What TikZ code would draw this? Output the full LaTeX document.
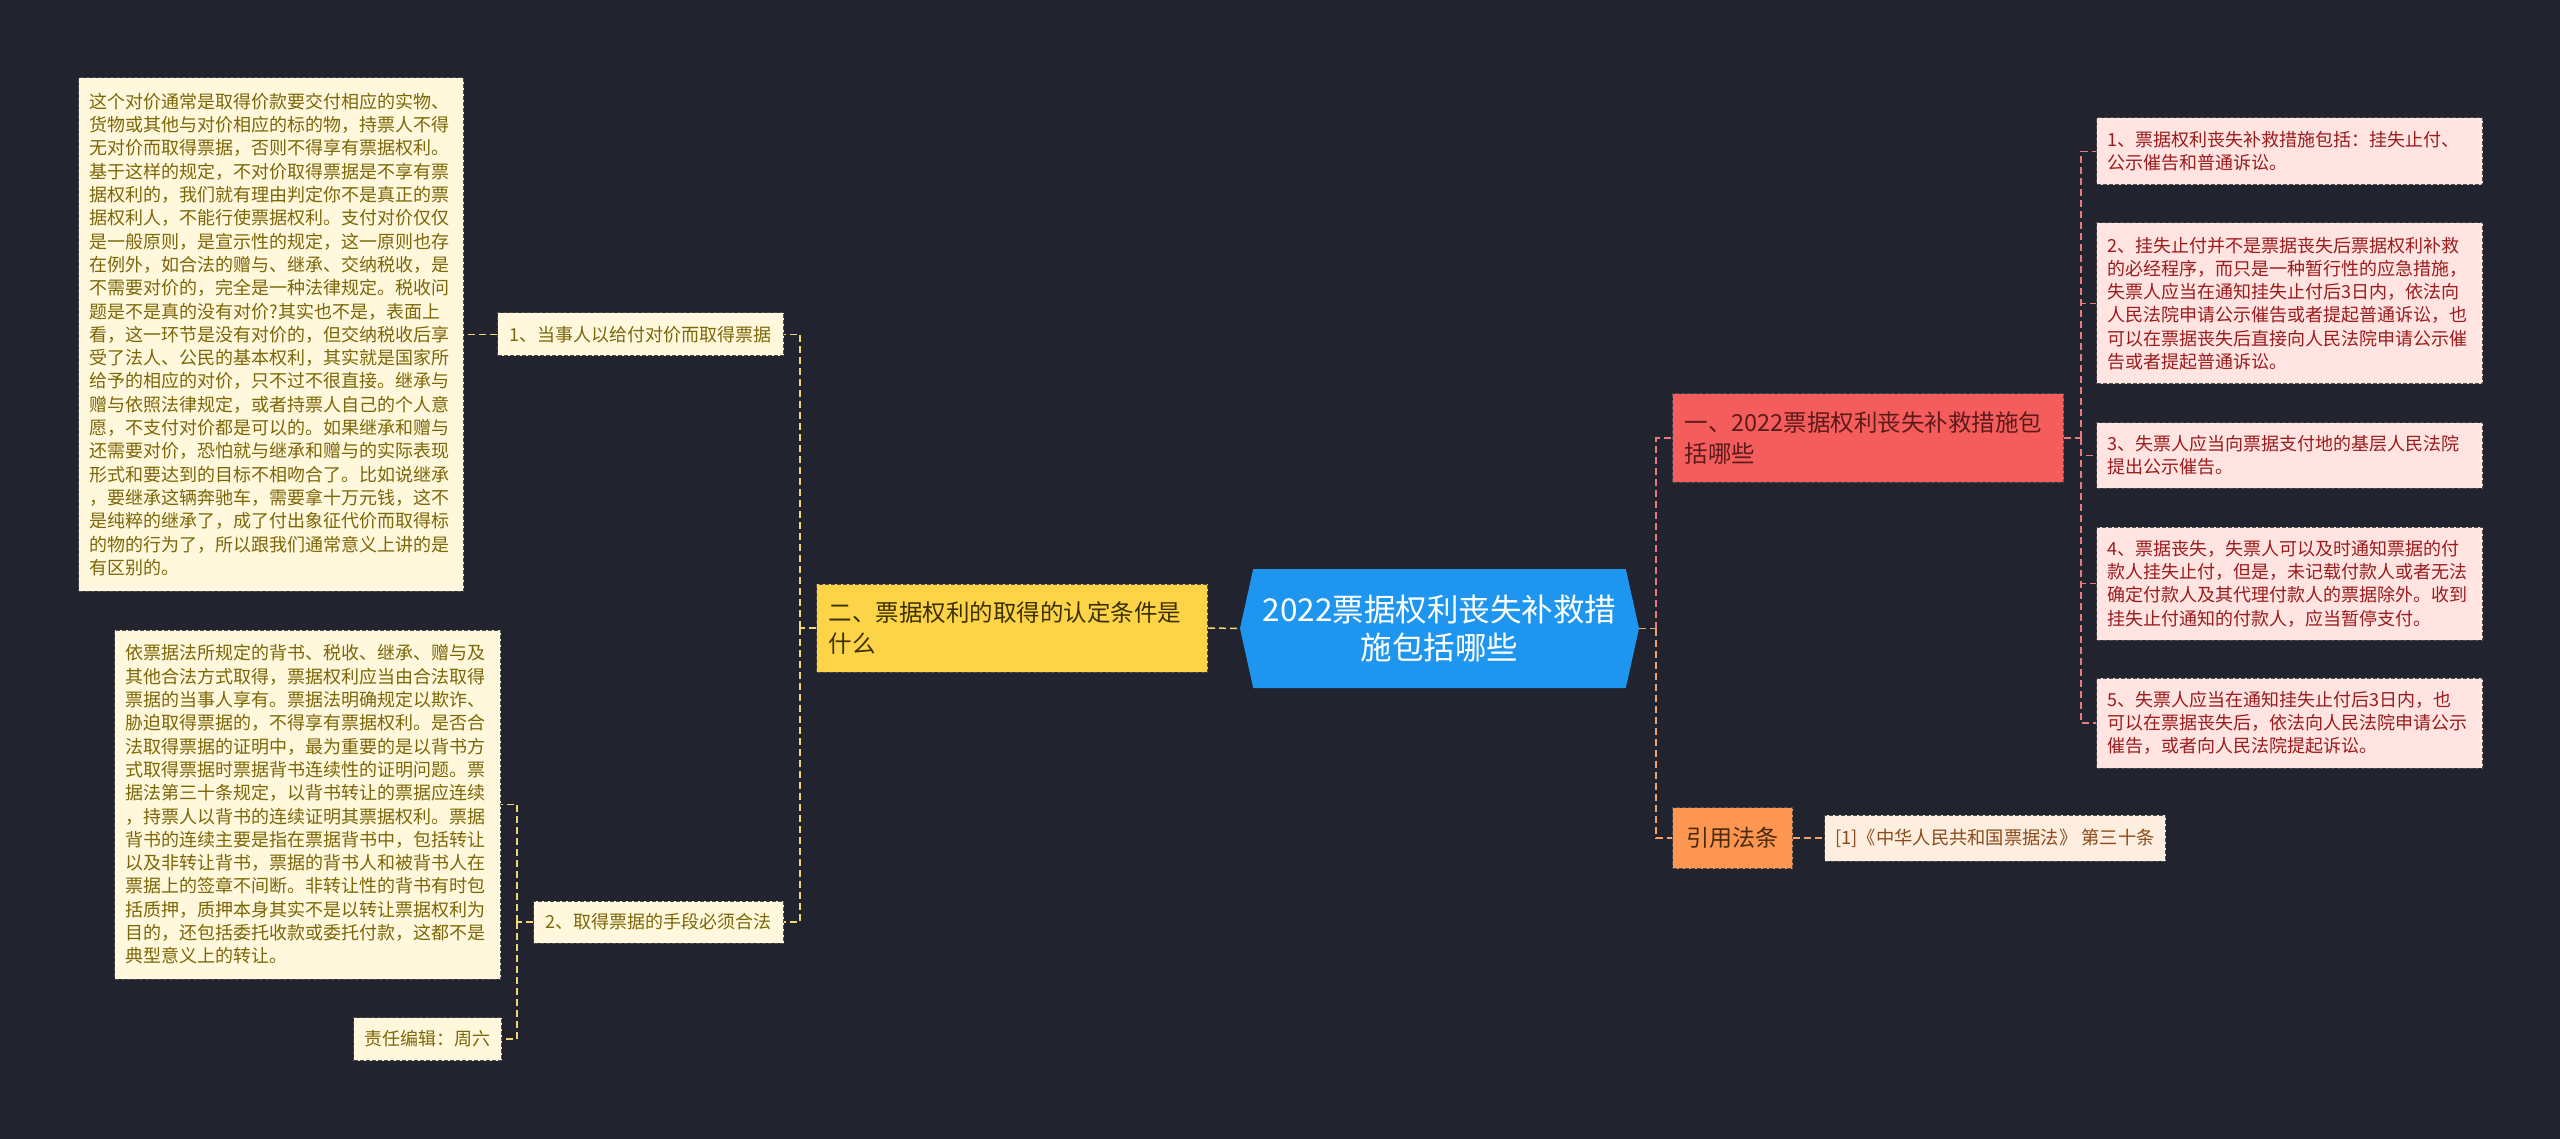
\documentclass[tikz,border=0pt]{standalone}
\usepackage{fontspec}
\setmainfont{Noto Sans CJK SC}
\usepackage{tikz}
\usetikzlibrary{positioning,shapes.symbols}
\definecolor{bgdark}{HTML}{21232F}
\definecolor{hubblue}{HTML}{1E96F0}
\definecolor{gold}{HTML}{FDD447}
\definecolor{goldtxt}{HTML}{3D3000}
\definecolor{cream}{HTML}{FFF8DC}
\definecolor{creamtxt}{HTML}{7D6608}
\definecolor{coral}{HTML}{F55D5D}
\definecolor{coraltxt}{HTML}{5C1A1A}
\definecolor{rose}{HTML}{FFE4E1}
\definecolor{rosetxt}{HTML}{9B1C1C}
\definecolor{amber}{HTML}{FD9650}
\definecolor{ambertxt}{HTML}{4A2A10}
\definecolor{peach}{HTML}{FDEEDF}
\definecolor{peachtxt}{HTML}{8B4A1A}
\definecolor{linkyel}{HTML}{F2D675}
\definecolor{linkpink}{HTML}{E8797F}
\definecolor{linkamber}{HTML}{F4A26C}

\begin{document}
\begin{tikzpicture}[
  x=1pt, y=-1pt,
  box/.style={draw=black!70, dash pattern=on 4pt off 2pt, line width=1pt, anchor=west, inner ysep=0pt},
  leaf/.style={box, fill=cream, text=creamtxt, font=\fontsize{18}{23.3}\selectfont, inner xsep=11pt, align=left},
  pleaf/.style={box, fill=rose, text=rosetxt, font=\fontsize{18}{23.3}\selectfont, inner xsep=11pt, align=left, text width=364pt},
  branch/.style={box, font=\fontsize{23.5}{31.7}\selectfont, inner xsep=12pt, align=left, text width=367pt, minimum height=88pt},
  hub/.style={signal, signal to=west and east, signal pointer angle=155, fill=hubblue, text=white, font=\fontsize{31.5}{38}\selectfont, align=center, minimum width=399pt, minimum height=119pt, inner sep=0pt},
  ylink/.style={draw=linkyel, line width=1.5pt, dash pattern=on 7pt off 4pt},
  plink/.style={draw=linkpink, line width=1.5pt, dash pattern=on 7pt off 4pt},
  olink/.style={draw=linkamber, line width=1.5pt, dash pattern=on 7pt off 4pt}
]
  \fill[bgdark] (0,0) rectangle (2560,1139);
  \useasboundingbox (0,0) rectangle (2560,1139);

  % CENTRE
  \node[hub] (hub) at (1439.5,628.5) {2022票据权利丧失补救措\\施包括哪些};

  % LEFT: acquisition conditions
  \node[branch, fill=gold, text=goldtxt] (acq) at (816,628) {二、票据权利的取得的认定条件是\\什么};
  \node[leaf, minimum width=286pt, minimum height=43pt, align=center] (cond1) at (497,334.5) {1、当事人以给付对价而取得票据};
  \node[leaf, minimum width=250pt, minimum height=42pt, align=center] (cond2) at (533,922) {2、取得票据的手段必须合法};
  \node[leaf, text width=363pt, minimum height=513pt] (pay) at (78,334.5) {这个对价通常是取得价款要交付相应的实物、\\货物或其他与对价相应的标的物，持票人不得\\无对价而取得票据，否则不得享有票据权利。\\基于这样的规定，不对价取得票据是不享有票\\据权利的，我们就有理由判定你不是真正的票\\据权利人，不能行使票据权利。支付对价仅仅\\是一般原则，是宣示性的规定，这一原则也存\\在例外，如合法的赠与、继承、交纳税收，是\\不需要对价的，完全是一种法律规定。税收问\\题是不是真的没有对价?其实也不是，表面上\\看，这一环节是没有对价的，但交纳税收后享\\受了法人、公民的基本权利，其实就是国家所\\给予的相应的对价，只不过不很直接。继承与\\赠与依照法律规定，或者持票人自己的个人意\\愿，不支付对价都是可以的。如果继承和赠与\\还需要对价，恐怕就与继承和赠与的实际表现\\形式和要达到的目标不相吻合了。比如说继承\\，要继承这辆奔驰车，需要拿十万元钱，这不\\是纯粹的继承了，成了付出象征代价而取得标\\的物的行为了，所以跟我们通常意义上讲的是\\有区别的。};
  \node[leaf, text width=364pt, minimum height=349pt] (legal) at (114,804.5) {依票据法所规定的背书、税收、继承、赠与及\\其他合法方式取得，票据权利应当由合法取得\\票据的当事人享有。票据法明确规定以欺诈、\\胁迫取得票据的，不得享有票据权利。是否合\\法取得票据的证明中，最为重要的是以背书方\\式取得票据时票据背书连续性的证明问题。票\\据法第三十条规定，以背书转让的票据应连续\\，持票人以背书的连续证明其票据权利。票据\\背书的连续主要是指在票据背书中，包括转让\\以及非转让背书，票据的背书人和被背书人在\\票据上的签章不间断。非转让性的背书有时包\\括质押，质押本身其实不是以转让票据权利为\\目的，还包括委托收款或委托付款，这都不是\\典型意义上的转让。};
  \node[leaf, minimum width=147pt, minimum height=43pt, align=center] (editor) at (353,1039) {责任编辑：周六};

  \draw[ylink] (acq.east) -- (hub.west);
  \draw[ylink] (acq.west) -- ++(-16,0) coordinate (lfork);
  \draw[ylink] (lfork) |- (cond1.east);
  \draw[ylink] (lfork) |- (cond2.east);
  \draw[ylink] (cond1.west) -- (pay.east);
  \draw[ylink] (cond2.west) -- ++(-16,0) coordinate (lfork2);
  \draw[ylink] (lfork2) |- (legal.east);
  \draw[ylink] (lfork2) |- (editor.east);

  % RIGHT: remedies
  \node[branch, fill=coral, text=coraltxt] (remedy) at (1672,438) {一、2022票据权利丧失补救措施包\\括哪些};
  \node[pleaf, minimum height=67pt] (r1) at (2096,151.5) {1、票据权利丧失补救措施包括：挂失止付、\\公示催告和普通诉讼。};
  \node[pleaf, minimum height=161pt] (r2) at (2096,303.5) {2、挂失止付并不是票据丧失后票据权利补救\\的必经程序，而只是一种暂行性的应急措施，\\失票人应当在通知挂失止付后3日内，依法向\\人民法院申请公示催告或者提起普通诉讼，也\\可以在票据丧失后直接向人民法院申请公示催\\告或者提起普通诉讼。};
  \node[pleaf, minimum height=65pt] (r3) at (2096,455.5) {3、失票人应当向票据支付地的基层人民法院\\提出公示催告。};
  \node[pleaf, minimum height=113pt] (r4) at (2096,583.5) {4、票据丧失，失票人可以及时通知票据的付\\款人挂失止付，但是，未记载付款人或者无法\\确定付款人及其代理付款人的票据除外。收到\\挂失止付通知的付款人，应当暂停支付。};
  \node[pleaf, minimum height=90pt] (r5) at (2096,723) {5、失票人应当在通知挂失止付后3日内，也\\可以在票据丧失后，依法向人民法院申请公示\\催告，或者向人民法院提起诉讼。};

  % RIGHT: cited law
  \node[box, fill=amber, text=ambertxt, font=\fontsize{23}{27}\selectfont, minimum width=120pt, minimum height=61pt] (cite) at (1672,838) {引用法条};
  \node[box, fill=peach, text=peachtxt, font=\fontsize{18.3}{22}\selectfont, minimum width=341pt, minimum height=46pt] (law) at (1824,838) {[1]《中华人民共和国票据法》 第三十条};

  \draw[olink] (hub.east) -- ++(17,0) coordinate (rfork);
  \draw[plink] (rfork) |- (remedy.west);
  \draw[olink] (rfork) |- (cite.west);
  \draw[plink] (remedy.east) -- ++(17,0) coordinate (rfork2);
  \foreach \n in {r1,r2,r3,r4,r5}
    \draw[plink] (rfork2) |- (\n.west);
  \draw[olink] (cite.east) -- (law.west);

\end{tikzpicture}
\end{document}
